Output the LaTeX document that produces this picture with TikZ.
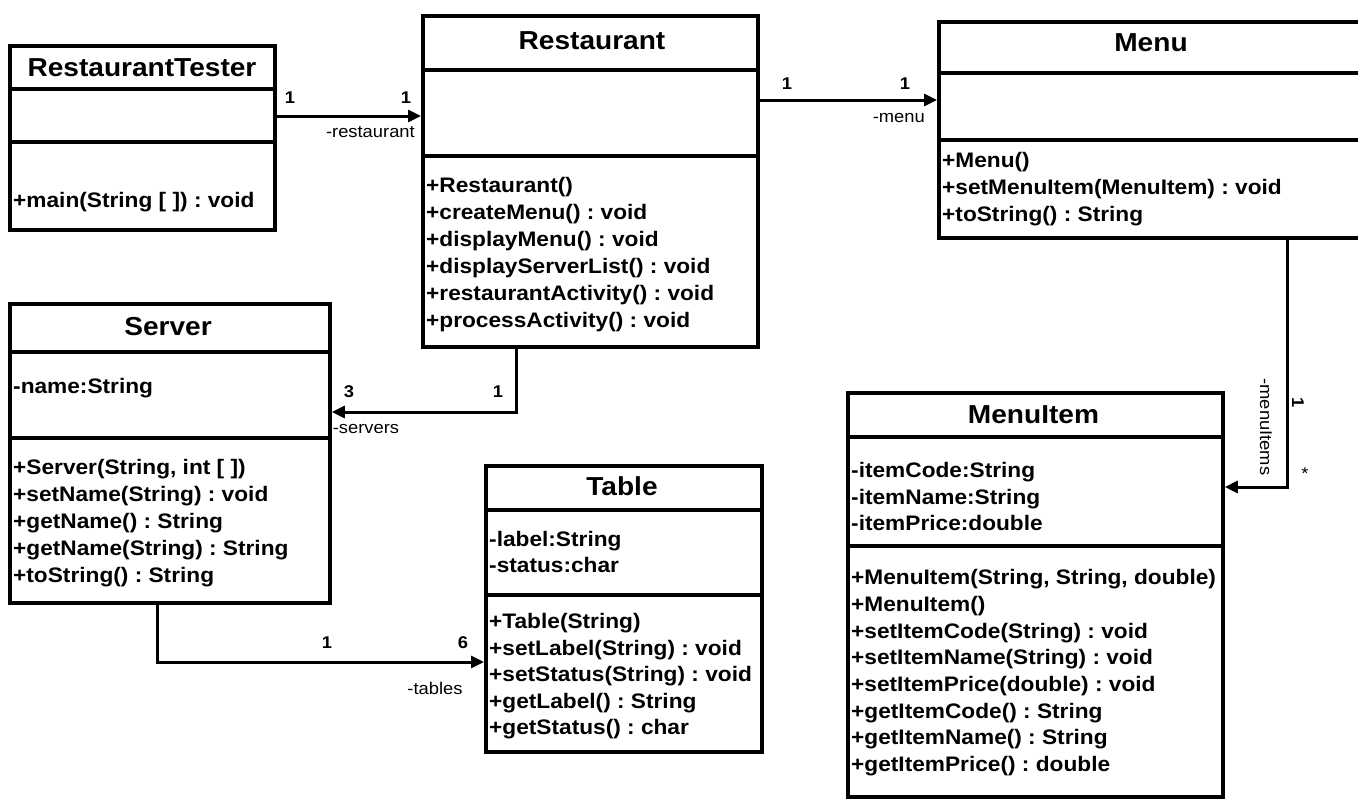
\documentclass[tikz,border=0pt]{standalone}
\usepackage{fontspec}
\setmainfont{Liberation Sans}[FakeStretch=1.08]
\usetikzlibrary{arrows.meta}
\frenchspacing
\begin{document}
\begin{tikzpicture}[x=1pt,y=-1pt,
  box/.style={draw, line width=3.8pt, inner sep=0pt, anchor=north west},
  div/.style={line width=3.8pt},
  ttl/.style={font=\fontsize{26}{30}\selectfont\bfseries, anchor=base, inner sep=0pt},
  mem/.style={font=\fontsize{21}{27}\selectfont\bfseries\frenchspacing, anchor=base west, inner sep=0pt},
  lbl/.style={font=\fontsize{17}{20}\selectfont, inner sep=0pt},
  mult/.style={font=\fontsize{17}{20}\selectfont\bfseries, inner sep=0pt},
  conn/.style={line width=3pt, -{Triangle[length=13pt,width=12pt]}}]
\useasboundingbox (0,0) rectangle (1358,806);
\clip (0,0) rectangle (1358,806);
\fill[white] (0,0) rectangle (1358,806);

% ---------- RestaurantTester ----------
\node[box, minimum width=265pt, minimum height=184pt] (tester) at (8,44) {};
\draw[div] (tester.west |- 0,89) -- (tester.east |- 0,89);
\draw[div] (tester.west |- 0,142) -- (tester.east |- 0,142);
\node[ttl] (tester-t) at (142,76) {RestaurantTester};
\node[mem] (tester-m1) at (13,207) {+main(String [ ]) : void};

% ---------- Restaurant ----------
\node[box, minimum width=335pt, minimum height=331pt] (rest) at (421,14) {};
\draw[div] (rest.west |- 0,70) -- (rest.east |- 0,70);
\draw[div] (rest.west |- 0,156) -- (rest.east |- 0,156);
\node[ttl] (rest-t) at (592,49) {Restaurant};
\foreach \t [count=\i] in {{+Restaurant()},{+createMenu() : void},{+displayMenu() : void},{+displayServerList() : void},{+restaurantActivity() : void},{+processActivity() : void}}
  \node[mem] (rest-m\i) at (426,{165+27*\i}) {\t};

% ---------- Menu ----------
\node[box, minimum width=428pt, minimum height=216pt] (menu) at (937,20) {};
\draw[div] (menu.west |- 0,73) -- (menu.east |- 0,73);
\draw[div] (menu.west |- 0,140) -- (menu.east |- 0,140);
\node[ttl] (menu-t) at (1151,51) {Menu};
\foreach \t [count=\i] in {{+Menu()},{+setMenuItem(MenuItem) : void},{+toString() : String}}
  \node[mem] (menu-m\i) at (942,{140+27*\i}) {\t};

% ---------- Server ----------
\node[box, minimum width=320pt, minimum height=299pt] (server) at (8,302) {};
\draw[div] (server.west |- 0,352) -- (server.east |- 0,352);
\draw[div] (server.west |- 0,438) -- (server.east |- 0,438);
\node[ttl] (server-t) at (168,335) {Server};
\node[mem] (server-a1) at (13,393) {-name:String};
\foreach \t [count=\i] in {{+Server(String, int [ ])},{+setName(String) : void},{+getName() : String},{+getName(String) : String},{+toString() : String}}
  \node[mem] (server-m\i) at (13,{447+27*\i}) {\t};

% ---------- Table ----------
\node[box, minimum width=276pt, minimum height=286pt] (table) at (484,464) {};
\draw[div] (table.west |- 0,510) -- (table.east |- 0,510);
\draw[div] (table.west |- 0,595) -- (table.east |- 0,595);
\node[ttl] (table-t) at (622,495) {Table};
\foreach \t [count=\i] in {{-label:String},{-status:char}}
  \node[mem] (table-a\i) at (489,{520+26*\i}) {\t};
\foreach \t [count=\i] in {{+Table(String)},{+setLabel(String) : void},{+setStatus(String) : void},{+getLabel() : String},{+getStatus() : char}}
  \node[mem] (table-m\i) at (489,{602+26.5*\i}) {\t};

% ---------- MenuItem ----------
\node[box, minimum width=375pt, minimum height=404pt] (mitem) at (846,391) {};
\draw[div] (mitem.west |- 0,437) -- (mitem.east |- 0,437);
\draw[div] (mitem.west |- 0,546) -- (mitem.east |- 0,546);
\node[ttl] (mitem-t) at (1033.5,423) {MenuItem};
\foreach \t [count=\i] in {{-itemCode:String},{-itemName:String},{-itemPrice:double}}
  \node[mem] (mitem-a\i) at (851,{451+26.5*\i}) {\t};
\foreach \t [count=\i] in {{+MenuItem(String, String, double)},{+MenuItem()},{+setItemCode(String) : void},{+setItemName(String) : void},{+setItemPrice(double) : void},{+getItemCode() : String},{+getItemName() : String},{+getItemPrice() : double}}
  \node[mem] (mitem-m\i) at (851,{558+26.7*\i}) {\t};

% ---------- Connectors ----------
\draw[conn] (tester.east |- 0,116) -- (rest.west |- 0,116);
\node[mult] (l1a) at (290,98) {1};
\node[mult] (l1b) at (406,98) {1};
\node[lbl, anchor=east] (l1c) at (415,132) {-restaurant};

\draw[conn] (rest.east |- 0,100) -- (menu.west |- 0,100);
\node[mult] (l2a) at (787,84) {1};
\node[mult] (l2b) at (905,84) {1};
\node[lbl, anchor=east] (l2c) at (925,118) {-menu};

\draw[conn] (rest.south -| 516,0) |- (server.east |- 0,412);
\node[mult] (l3a) at (349,392) {3};
\node[mult] (l3b) at (498,392) {1};
\node[lbl] (l3c) at (366,429) {-servers};

\draw[conn] (server.south -| 157,0) |- (table.west |- 0,662);
\node[mult] (l4a) at (327,643) {1};
\node[mult] (l4b) at (463,643) {6};
\node[lbl] (l4c) at (435,688) {-tables};

\draw[conn] (menu.south -| 1287,0) |- (mitem.east |- 0,487);
\node[lbl, rotate=-90] (l5c) at (1266,427) {-menuItems};
\node[mult, rotate=-90] (l5a) at (1298,403) {1};
\node[lbl] (l5b) at (1305,474) {*};
\end{tikzpicture}
\end{document}
